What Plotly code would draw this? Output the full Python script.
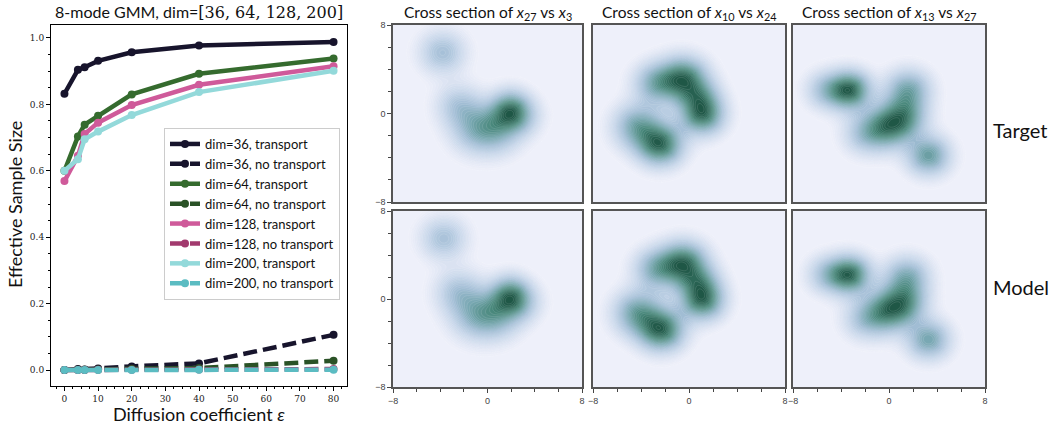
import numpy as np
import plotly.graph_objects as go

# ---------------- Left chart data ----------------
eps = [0, 4, 6, 10, 20, 40, 80]
ess_36_t = [0.832, 0.904, 0.912, 0.931, 0.957, 0.977, 0.988]
ess_36_nt = [0.000, 0.003, 0.002, 0.005, 0.011, 0.020, 0.106]
ess_64_t = [0.600, 0.703, 0.739, 0.766, 0.830, 0.892, 0.938]
ess_64_nt = [0.000, 0.001, 0.001, 0.002, 0.004, 0.006, 0.028]
ess_128_t = [0.569, 0.645, 0.711, 0.745, 0.798, 0.859, 0.915]
ess_128_nt = [0.000, 0.000, 0.000, 0.001, 0.001, 0.002, 0.003]
ess_200_t = [0.600, 0.635, 0.695, 0.718, 0.768, 0.837, 0.901]
ess_200_nt = [0.000, 0.000, 0.000, 0.000, 0.000, 0.001, 0.001]

series = [
    ("dim=36, transport", ess_36_t, "#17142c", "solid"),
    ("dim=36, no transport", ess_36_nt, "#17142c", "14px,6px"),
    ("dim=64, transport", ess_64_t, "#356b2e", "solid"),
    ("dim=64, no transport", ess_64_nt, "#2a5226", "14px,6px"),
    ("dim=128, transport", ess_128_t, "#cf5a9a", "solid"),
    ("dim=128, no transport", ess_128_nt, "#a23a6e", "14px,6px"),
    ("dim=200, transport", ess_200_t, "#93d9da", "solid"),
    ("dim=200, no transport", ess_200_nt, "#5bbcc2", "14px,6px"),
]

# ---------------- Cross-section mixture components ----------------
panel_titles = [
    "Cross section of <i>x</i><sub>27</sub> vs <i>x</i><sub>3</sub>",
    "Cross section of <i>x</i><sub>10</sub> vs <i>x</i><sub>24</sub>",
    "Cross section of <i>x</i><sub>13</sub> vs <i>x</i><sub>27</sub>",
]
row_labels = ["Target", "Model"]

# target
t1_mx = [-3.8, -2.4, -0.8, 1.9, 1.9, 0.8, 2.8]
t1_my = [5.5, 0.7, -1.3, 0.0, 1.0, -1.5, -0.2]
t1_w = [0.38, 0.32, 0.50, 0.75, 0.25, 0.40, 0.30]
t1_s = [1.25, 1.25, 1.45, 1.05, 1.0, 1.35, 1.15]

t2_mx = [-0.5, 1.1, -2.4, -4.2, -2.7, 0.9]
t2_my = [3.1, -0.1, -2.8, -1.2, 2.7, 1.5]
t2_w = [0.75, 0.7, 0.75, 0.45, 0.4, 0.35]
t2_s = [1.25, 1.15, 1.2, 1.3, 1.2, 1.1]

t3_mx = [-3.3, 1.6, -0.1, 1.3, 3.3, -1.9, -5.2]
t3_my = [2.1, 2.1, -1.2, -0.3, -3.8, -1.8, 2.1]
t3_w = [0.75, 0.4, 0.55, 0.45, 0.45, 0.25, 0.25]
t3_s = [1.1, 1.2, 1.25, 1.2, 1.15, 1.2, 1.1]

# model
m1_mx = [-3.7, -2.4, -0.8, 1.9, 1.9, 0.8, 2.8]
m1_my = [5.5, 0.6, -1.4, 0.0, 1.0, -1.5, -0.3]
m1_w = [0.36, 0.35, 0.50, 0.75, 0.25, 0.40, 0.30]
m1_s = [1.25, 1.3, 1.45, 1.05, 1.0, 1.35, 1.15]

m2_mx = [-0.5, 1.1, -2.3, -4.2, -2.7, 0.9]
m2_my = [3.2, -0.1, -2.8, -1.3, 2.7, 1.5]
m2_w = [0.75, 0.7, 0.75, 0.48, 0.38, 0.35]
m2_s = [1.25, 1.15, 1.2, 1.3, 1.2, 1.1]

m3_mx = [-3.3, 1.5, -0.1, 1.3, 3.3, -1.9, -5.1]
m3_my = [2.2, 2.0, -1.1, -0.3, -3.7, -1.8, 2.2]
m3_w = [0.75, 0.38, 0.55, 0.48, 0.42, 0.25, 0.25]
m3_s = [1.1, 1.2, 1.25, 1.2, 1.15, 1.2, 1.1]

panels = [
    [(t1_mx, t1_my, t1_w, t1_s), (t2_mx, t2_my, t2_w, t2_s), (t3_mx, t3_my, t3_w, t3_s)],
    [(m1_mx, m1_my, m1_w, m1_s), (m2_mx, m2_my, m2_w, m2_s), (m3_mx, m3_my, m3_w, m3_s)],
]

grid = np.linspace(-8, 8, 161)
GX, GY = np.meshgrid(grid, grid)


def density(mx, my, w, s):
    z = np.zeros_like(GX)
    for a, b, c, d in zip(mx, my, w, s):
        z += c * np.exp(-((GX - a) ** 2 + (GY - b) ** 2) / (2 * d * d))
    z = z / z.max()
    return z ** 0.55


W, H = 1050, 428
def px(x):
    return x / W
def py(y):
    return 1 - y / H

fig = go.Figure()

# ---------- left chart ----------
for name, vals, col, dash in series:
    fig.add_trace(go.Scatter(
        x=eps, y=vals, name=name, mode="lines+markers",
        line=dict(color=col, width=4.5, dash=dash),
        marker=dict(color=col, size=8),
        xaxis="x", yaxis="y",
    ))

serif = "DejaVu Serif"
sans = "Lato"

layout = dict(
    width=W, height=H,
    margin=dict(l=0, r=0, t=0, b=0, autoexpand=False),
    paper_bgcolor="white",
    plot_bgcolor="white",
    showlegend=True,
    legend=dict(
        x=px(164), y=py(128), xanchor="left", yanchor="top",
        bgcolor="white", bordercolor="#cccccc", borderwidth=1,
        font=dict(family=sans, size=13, color="#111"),
        tracegroupgap=0, itemwidth=30,
    ),
    xaxis=dict(
        domain=[px(51), px(347)], range=[-4, 84], automargin=False,
        tickvals=list(range(0, 81, 10)),
        ticks="outside", ticklen=4, tickwidth=1, tickcolor="black",
        minor=dict(dtick=2.5, ticks="outside", ticklen=2, tickcolor="black"),
        showline=True, linecolor="black", linewidth=1, mirror=True,
        showgrid=False, zeroline=False,
        tickfont=dict(family=serif, size=9, color="#222"),
        anchor="y",
    ),
    yaxis=dict(
        domain=[py(386), py(25)], range=[-0.048, 1.039], automargin=False,
        tickvals=[0.0, 0.2, 0.4, 0.6, 0.8, 1.0],
        ticktext=["0.0", "0.2", "0.4", "0.6", "0.8", "1.0"],
        ticks="outside", ticklen=4, tickwidth=1, tickcolor="black",
        minor=dict(dtick=0.05, ticks="outside", ticklen=2, tickcolor="black"),
        showline=True, linecolor="black", linewidth=1, mirror=True,
        showgrid=False, zeroline=False,
        tickfont=dict(family=serif, size=9, color="#222"),
        anchor="x",
    ),
)

colorscale = [
    [0.0, "#eef0fa"], [0.12, "#e0e6f4"], [0.3, "#c5d5e9"], [0.48, "#a3bed6"],
    [0.65, "#76a6b0"], [0.82, "#47877a"], [1.0, "#1f5746"],
]

col_x = [(393, 582), (593, 785), (793, 985)]
row_y = [(25, 202), (211, 387)]

annotations = []
idx = 2
for r in range(2):
    for c in range(3):
        mx, my, w, s = panels[r][c]
        z = density(mx, my, w, s)
        xa = f"x{idx}"
        ya = f"y{idx}"
        fig.add_trace(go.Contour(
            x=grid, y=grid, z=z, xaxis=xa, yaxis=ya,
            colorscale=colorscale, zmin=0, zmax=1, showscale=False,
            contours=dict(start=0.1, end=1.0, size=0.022, coloring="fill"),
            line=dict(width=0.4, color="rgba(255,255,255,0.3)"),
            showlegend=False, hoverinfo="skip",
        ))
        x0, x1 = col_x[c]
        y0, y1 = row_y[r]
        layout[f"xaxis{idx}"] = dict(
            domain=[px(x0), px(x1)], range=[-8, 8], anchor=ya, automargin=False,
            tickvals=[-8, 0, 8], showticklabels=(r == 1),
            ticks="outside" if r == 1 else "", ticklen=4, tickcolor="#444",
            minor=dict(dtick=2, ticks="outside" if r == 1 else "", ticklen=3, tickcolor="#444"),
            showline=True, linecolor="#555", linewidth=1.5, mirror=True,
            showgrid=False, zeroline=False,
            tickfont=dict(family="Liberation Sans", size=9, color="#444"),
        )
        layout[f"yaxis{idx}"] = dict(
            domain=[py(y1), py(y0)], range=[-8, 8], anchor=xa, automargin=False,
            tickvals=[-8, 0, 8], showticklabels=(c == 0),
            ticks="outside" if c == 0 else "", ticklen=4, tickcolor="#444",
            minor=dict(dtick=2, ticks="outside" if c == 0 else "", ticklen=3, tickcolor="#444"),
            showline=True, linecolor="#555", linewidth=1.5, mirror=True,
            showgrid=False, zeroline=False,
            tickfont=dict(family="Liberation Sans", size=9, color="#444"),
        )
        if r == 0:
            annotations.append(dict(
                text=panel_titles[c], x=px((x0 + x1) / 2), y=py(13),
                xref="paper", yref="paper", showarrow=False,
                xanchor="center", yanchor="middle",
                font=dict(family=sans, size=15.5, color="#111"),
            ))
        idx += 1

label_y = [130, 287]
for i, lab in enumerate(row_labels):
    annotations.append(dict(
        text=lab, x=px(991), y=py(label_y[i]),
        xref="paper", yref="paper", showarrow=False,
        xanchor="left", yanchor="middle",
        font=dict(family=sans, size=20, color="#111"),
    ))

annotations.append(dict(
    text="8-mode GMM, dim=<span style='font-family:DejaVu Serif'>[36, 64, 128, 200]</span>",
    x=px(199), y=py(12), xref="paper", yref="paper", showarrow=False,
    xanchor="center", yanchor="middle",
    font=dict(family=sans, size=16, color="#111"),
))
annotations.append(dict(
    text="Diffusion coefficient <i>ε</i>", x=px(199), y=py(414),
    xref="paper", yref="paper", showarrow=False,
    xanchor="center", yanchor="middle",
    font=dict(family=sans, size=18, color="#111"),
))
annotations.append(dict(
    text="Effective Sample Size", x=px(15), y=py(205), textangle=-90,
    xref="paper", yref="paper", showarrow=False,
    xanchor="center", yanchor="middle",
    font=dict(family=sans, size=18, color="#111"),
))
layout["annotations"] = annotations

fig.update_layout(**layout)
fig.write_html(
    "out.html",
    config={"displayModeBar": False},
    post_script="document.body.style.margin='0px';document.body.style.overflow='hidden';",
)
